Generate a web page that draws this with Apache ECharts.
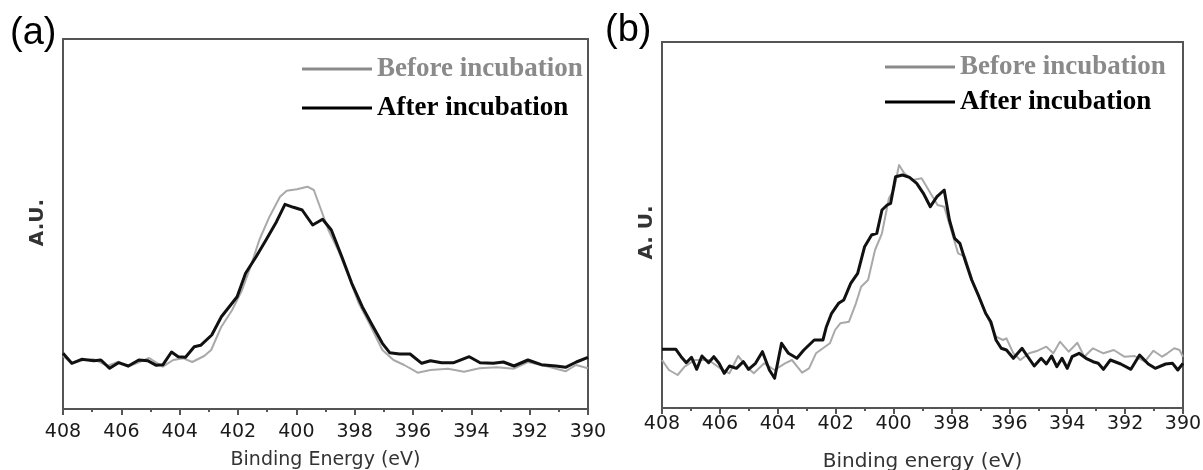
<!DOCTYPE html>
<html>
<head>
<meta charset="utf-8">
<script src="https://cdn.jsdelivr.net/npm/echarts@6/dist/echarts.min.js"></script>
<style>
html,body{margin:0;padding:0;background:#fff;}
#chart{width:1203px;height:470px;}
</style>
</head>
<body>
<div id="chart"></div>
<script>
// Binding energy tick labels (eV)
const xTicks = [408, 406, 404, 402, 400, 398, 396, 394, 392, 390];
const seriesNames = ['Before incubation', 'After incubation'];

// Panel (a): [binding energy (eV), intensity (A.U.)]
const beforeA = [
  [408.0,53],[407.7,45.7],[407.29,49],[406.94,49.7],[406.47,43],[406.1,47.3],[405.76,42.3],
  [405.05,51],[404.58,42.3],[404.22,49],[403.87,50.7],[403.57,47],[403.16,53],[402.92,59],
  [402.57,82.3],[402.2,99],[401.86,119],[401.57,142.3],[401.27,169],[400.92,192.3],[400.56,212.3],
  [400.33,218.3],[399.98,219.7],[399.62,222.3],[399.4,219],[399.15,199],[398.9,179],[398.57,159],
  [398.2,132.3],[397.86,105.7],[397.5,85.7],[397.05,59],[396.67,49],[396.3,44],[395.84,36.3],
  [395.4,39],[394.8,40.3],[394.25,37.3],[393.72,40.7],[393.13,41.7],[392.54,40.3],[392.06,47],
  [391.35,42.3],[390.77,37.7],[390.41,44],[390.0,40.7]
];
const afterA = [
  [408.0,55.7],[407.7,45.7],[407.36,49.7],[406.94,48.3],[406.7,49],[406.4,40.7],[406.1,46.3],
  [405.76,43],[405.4,49],[405.1,48.3],[404.8,43.7],[404.57,44.3],[404.28,57],[404.05,52.3],
  [403.8,51.7],[403.5,62.3],[403.28,63.7],[402.9,74],[402.57,92.3],[402.03,112.3],[401.74,135.7],
  [401.38,152.3],[401.04,169],[400.68,187.3],[400.39,204.7],[400.1,201.7],[399.8,199],[399.44,184],
  [399.1,189.7],[398.8,179],[398.44,152.3],[398.1,125.7],[397.74,102.3],[397.4,84],[397.05,65.7],
  [396.8,56.3],[396.46,55],[396.1,55],[395.7,45.7],[395.4,48.3],[395.02,46.3],[394.6,46.3],
  [394.07,52.3],[393.7,46.3],[393.25,45.7],[392.9,47],[392.54,43],[392.06,49],[391.6,44.3],
  [391.1,43],[390.77,41.7],[390.4,47],[390.0,51.7]
];

// Panel (b): [binding energy (eV), intensity (A.U.)]
const beforeB = [
  [408.0,48],[407.76,38],[407.46,33],[407.22,41.3],[406.86,48],[406.39,48],[405.91,38],[405.67,34.7],
  [405.37,52],[405.07,41.3],[404.83,34.7],[404.47,44.7],[404.11,38],[403.75,44.7],[403.51,48],
  [403.28,39.7],[403.16,35.3],[402.92,39.7],[402.68,54.7],[402.44,59.7],[402.2,64.7],[402.02,78],
  [401.84,84.7],[401.54,86.3],[401.3,104.7],[401.12,121.3],[400.88,128],[400.64,158],[400.4,174.7],
  [400.16,209.7],[399.99,218],[399.81,243],[399.63,234.7],[399.33,228],[399.03,229.7],[398.79,218],
  [398.48,203],[398.25,201.3],[398.01,178],[397.77,154.7],[397.53,151.3],[397.3,129.7],[397.05,111.3],
  [396.76,91.3],[396.46,71.3],[396.22,68],[396.1,69.7],[395.86,54.7],[395.62,48],[395.32,54.7],
  [395.02,57.3],[394.72,61.3],[394.48,54.7],[394.25,66.3],[393.95,56.3],[393.65,65.3],[393.41,51.3],
  [393.11,59.7],[392.75,54.7],[392.39,58],[392.03,51.3],[391.67,52],[391.32,46.3],[391.02,57.3],
  [390.72,51.3],[390.54,54.7],[390.3,59.7],[390.12,58],[390.0,51.3]
];
const afterB = [
  [408.0,58.7],[407.52,58.7],[407.34,51.3],[407.16,45.3],[406.98,50.7],[406.8,38.7],[406.62,52],
  [406.39,45.3],[406.21,51.3],[406.03,44.7],[405.85,34.7],[405.67,42],[405.43,39.7],[405.19,46.3],
  [405.01,38.7],[404.77,44.7],[404.53,56.3],[404.29,38],[404.11,29.7],[403.87,64.7],[403.63,54.7],
  [403.34,49.7],[403.1,58],[402.74,68],[402.44,68],[402.32,81.3],[402.14,94.7],[401.9,104.7],
  [401.72,108],[401.48,124.7],[401.24,134.7],[401.0,161.3],[400.76,173],[400.58,174.7],[400.4,198],
  [400.22,203],[400.1,204.7],[399.93,231.3],[399.69,233],[399.45,230.7],[399.2,224.7],[398.97,214.7],
  [398.73,201.3],[398.5,211.3],[398.25,218],[398.07,188],[397.89,169.7],[397.71,164.7],[397.53,148],
  [397.3,128],[397.05,111.3],[396.82,94.7],[396.64,86.3],[396.46,68],[396.28,59.7],[396.1,58],
  [395.86,49.7],[395.56,59.7],[395.38,52],[395.14,42],[394.9,49.7],[394.72,44],[394.54,52],
  [394.36,41.3],[394.18,49.7],[394.0,39.7],[393.83,51.3],[393.59,54.7],[393.35,49.7],[393.11,46.3],
  [392.93,44.7],[392.75,38.7],[392.51,48],[392.15,44],[391.8,38.7],[391.5,53],[391.2,44],
  [390.96,39.7],[390.6,44],[390.36,44.7],[390.18,38],[390.0,44.7]
];

const frameColor = '#555';
const grayLine = '#a9a9a9';
const legendGray = '#8a8a8a';

function xAxis(gridIndex, name, nameSize, labelMargin, nameGap) {
  return {
    type: 'value', gridIndex, inverse: true,
    min: xTicks[xTicks.length - 1], max: xTicks[0], interval: 2,
    axisLine: { show: true, lineStyle: { color: frameColor, width: 2 } },
    axisTick: { show: true, inside: false, length: 6, lineStyle: { color: frameColor, width: 2 } },
    minorTick: { show: true, splitNumber: 2, length: 3, lineStyle: { color: frameColor, width: 2 } },
    splitLine: { show: false },
    axisLabel: {
      margin: labelMargin, color: '#1a1a1a',
      fontFamily: 'DejaVu Sans', fontSize: 19,
      showMinLabel: true, showMaxLabel: true
    },
    name, nameLocation: 'middle', nameGap,
    nameTextStyle: { fontFamily: 'DejaVu Sans', fontSize: nameSize, color: '#333', verticalAlign: 'middle' }
  };
}
function yAxis(gridIndex, max) {
  return {
    type: 'value', gridIndex, min: 0, max,
    axisLine: { show: true, lineStyle: { color: frameColor, width: 2 } },
    axisTick: { show: false }, axisLabel: { show: false }, splitLine: { show: false }
  };
}
function lineSeries(name, data, idx, color, width) {
  return {
    type: 'line', name, data, xAxisIndex: idx, yAxisIndex: idx,
    showSymbol: false, symbol: 'none', smooth: false, animation: false,
    lineStyle: { color, width, join: 'round' }, itemStyle: { color }, z: name === seriesNames[1] ? 3 : 2
  };
}
function legend(left, top, gap) {
  return {
    orient: 'vertical', left, top, itemGap: gap, padding: 0,
    icon: 'rect', itemWidth: 70, itemHeight: 3,
    selectedMode: false,
    textStyle: { fontFamily: 'Liberation Serif', fontWeight: 'bold', fontSize: 27, lineHeight: 30 },
    data: [
      { name: seriesNames[0], itemStyle: { color: legendGray }, textStyle: { color: legendGray } },
      { name: seriesNames[1], itemStyle: { color: '#000' }, textStyle: { color: '#000' } }
    ]
  };
}

const chart = echarts.init(document.getElementById('chart'), null, { renderer: 'canvas' });
chart.setOption({
  backgroundColor: '#fff',
  animation: false,
  grid: [
    { left: 63, top: 39, width: 525, height: 370, show: true, borderColor: frameColor, borderWidth: 2,
      backgroundColor: 'transparent', containLabel: false, outerBoundsMode: 'none' },
    { left: 662, top: 42, width: 521, height: 366, show: true, borderColor: frameColor, borderWidth: 2,
      backgroundColor: 'transparent', containLabel: false, outerBoundsMode: 'none' }
  ],
  xAxis: [
    xAxis(0, 'Binding Energy (eV)', 19, 14, 51),
    xAxis(1, 'Binding energy (eV)', 20, 7, 54)
  ],
  yAxis: [yAxis(0, 370), yAxis(1, 366)],
  legend: [legend(302, 54, 9), legend(885, 52, 5)],
  graphic: [
    { type: 'text', left: 10, top: 15, style: { text: '(a)', font: '38px "Liberation Sans"', fill: '#000' } },
    { type: 'text', left: 605, top: 12, style: { text: '(b)', font: '38px "Liberation Sans"', fill: '#000' } },
    { type: 'text', x: 37.5, y: 222.5, rotation: Math.PI / 2,
      style: { text: 'A.U.', font: 'bold 20px "DejaVu Sans"', fill: '#333', align: 'center', verticalAlign: 'middle' } },
    { type: 'text', x: 647, y: 232.5, rotation: Math.PI / 2,
      style: { text: 'A. U.', font: 'bold 20px "DejaVu Sans"', fill: '#333', align: 'center', verticalAlign: 'middle' } }
  ],
  series: [
    lineSeries(seriesNames[0], beforeA, 0, grayLine, 2),
    lineSeries(seriesNames[1], afterA, 0, '#111', 3),
    lineSeries(seriesNames[0], beforeB, 1, grayLine, 2),
    lineSeries(seriesNames[1], afterB, 1, '#111', 3)
  ]
});
</script>
</body>
</html>
